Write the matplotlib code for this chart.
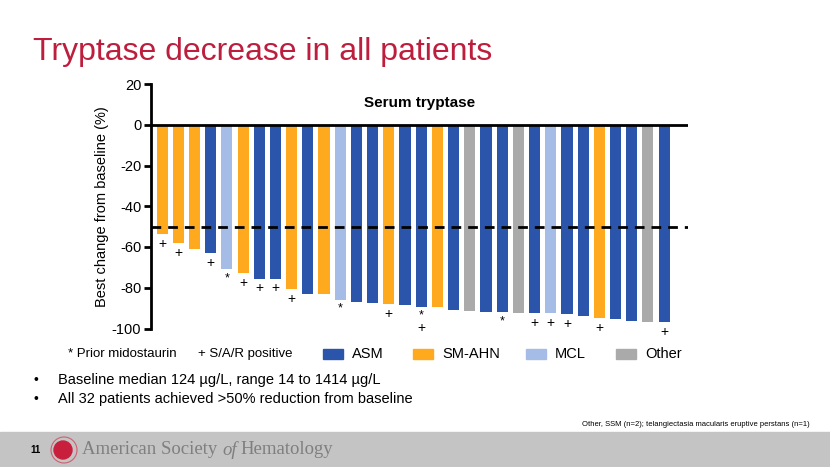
import matplotlib
matplotlib.use("Agg")
from matplotlib import pyplot as plt
from matplotlib.patches import Rectangle, Ellipse

plt.rcParams['font.family'] = ['Liberation Sans', 'DejaVu Sans']
plt.rcParams['axes.unicode_minus'] = False

# best change from baseline (%) per patient, sorted
change = [-53.5, -58, -61, -63, -71, -73, -75.5, -75.5, -80.5, -83, -83, -86,
          -87, -87.5, -88, -88.6, -89.4, -89.4, -90.7, -91.4, -92, -92, -92.2,
          -92.5, -92.5, -93, -94.1, -94.8, -95.3, -96.1, -96.6, -97]
group = ['SM-AHN', 'SM-AHN', 'SM-AHN', 'ASM', 'MCL', 'SM-AHN', 'ASM', 'ASM',
         'SM-AHN', 'ASM', 'SM-AHN', 'MCL', 'ASM', 'ASM', 'SM-AHN', 'ASM',
         'ASM', 'SM-AHN', 'ASM', 'Other', 'ASM', 'ASM', 'Other', 'ASM',
         'MCL', 'ASM', 'ASM', 'SM-AHN', 'ASM', 'ASM', 'Other', 'ASM']
# '*' prior midostaurin, '+' S/A/R positive
marks = ['+', '+', '', '+', '*', '+', '+', '+', '+', '', '', '*', '', '', '+', '',
         '*+', '', '', '', '', '*', '', '+', '+', '+', '', '+', '', '', '', '+']

colors = {'ASM': '#2B55AB', 'SM-AHN': '#FFAA1E', 'MCL': '#A4BCE6', 'Other': '#AAAAAA'}
legend_names = ['ASM', 'SM-AHN', 'MCL', 'Other']

fig = plt.figure(figsize=(8.3, 4.67), dpi=100)
fig.patch.set_facecolor('white')

fig.text(33/830, 1 - 60/467, "Tryptase decrease in all patients", color='#BE1E3D',
         fontsize=23, va='baseline', ha='left')

ax = fig.add_axes([151/830, 1 - 328.5/467, (688-151)/830, (328.5-84)/467])
x = list(range(len(change)))
ax.bar(x, change, width=0.68, color=[colors[g] for g in group], zorder=2)
ax.set_xlim(-0.68, 32.47)
ax.set_ylim(-100, 20)
ax.axhline(0, color='black', lw=2, zorder=3)
ax.axhline(-50, color='black', lw=2, ls=(0, (3.5, 2.5)), zorder=4)

for s in ['top', 'right', 'bottom']:
    ax.spines[s].set_visible(False)
ax.spines['left'].set_linewidth(2)
ax.set_xticks([])
ax.set_yticks(range(-100, 21, 20))
ax.tick_params(axis='y', length=5, width=2, labelsize=10.5, pad=2)
ax.set_ylabel("Best change from baseline (%)", fontsize=10.5, labelpad=2)
ax.text(0.5, 0.95, "Serum tryptase", transform=ax.transAxes, ha='center',
        va='top', fontsize=11, fontweight='bold')

for xi, v, m in zip(x, change, marks):
    off = -2
    for ch in m:
        ax.annotate(ch, (xi, v), xytext=(0, off), textcoords='offset points',
                    ha='center', va='top', fontsize=10 if ch == '+' else 9,
                    annotation_clip=False)
        off -= 8.5

# legend row
ly = 1 - 354/467
fig.text(68/830, ly, "* Prior midostaurin", fontsize=9.5, va='center')
fig.text(198/830, ly, "+ S/A/R positive", fontsize=9.5, va='center')
lx = [323, 413, 526, 616]
for px, name in zip(lx, legend_names):
    fig.patches.append(Rectangle((px/830, ly - 5/467), 20/830, 10/467,
                                 transform=fig.transFigure, color=colors[name]))
    fig.text((px + 29)/830, ly, name, fontsize=10.5, va='center')

# bullets
for yy, t in [(380, "Baseline median 124 \u00b5g/L, range 14 to 1414 \u00b5g/L"),
              (399, "All 32 patients achieved >50% reduction from baseline")]:
    fig.text(33/830, 1 - yy/467, "\u2022", fontsize=10, va='center')
    fig.text(58/830, 1 - yy/467, t, fontsize=10.5, va='center')

fig.text(810/830, 1 - 424/467,
         "Other, SSM (n=2); telangiectasia macularis eruptive perstans (n=1)",
         fontsize=5.5, ha='right', va='center')

# footer band
fig.patches.append(Rectangle((0, 0), 1, 35/467, transform=fig.transFigure,
                             color='#C4C4C4', zorder=0))
fig.text(30/830, 1 - 450/467, "11", fontsize=7, fontweight='bold', va='center')
fig.patches.append(Ellipse((64/830, 1 - 450/467), 26/830, 26/467,
                           transform=fig.transFigure, facecolor='none',
                           edgecolor='#D06070', lw=0.8, zorder=1))
fig.patches.append(Ellipse((63/830, 1 - 450/467), 18/830, 18/467,
                           transform=fig.transFigure, color='#C8203C', zorder=1))
fig.text(82/830, 1 - 450/467, "American Society ", family='Liberation Serif',
         fontsize=13.5, color='#7F7F7F', va='center')
fig.text(222/830, 1 - 450/467, "of", family='Liberation Serif', style='italic',
         fontsize=13.5, color='#7F7F7F', va='center')
fig.text(240/830, 1 - 450/467, "Hematology", family='Liberation Serif',
         fontsize=13.5, color='#7F7F7F', va='center')

plt.savefig('out.png', dpi=100)
